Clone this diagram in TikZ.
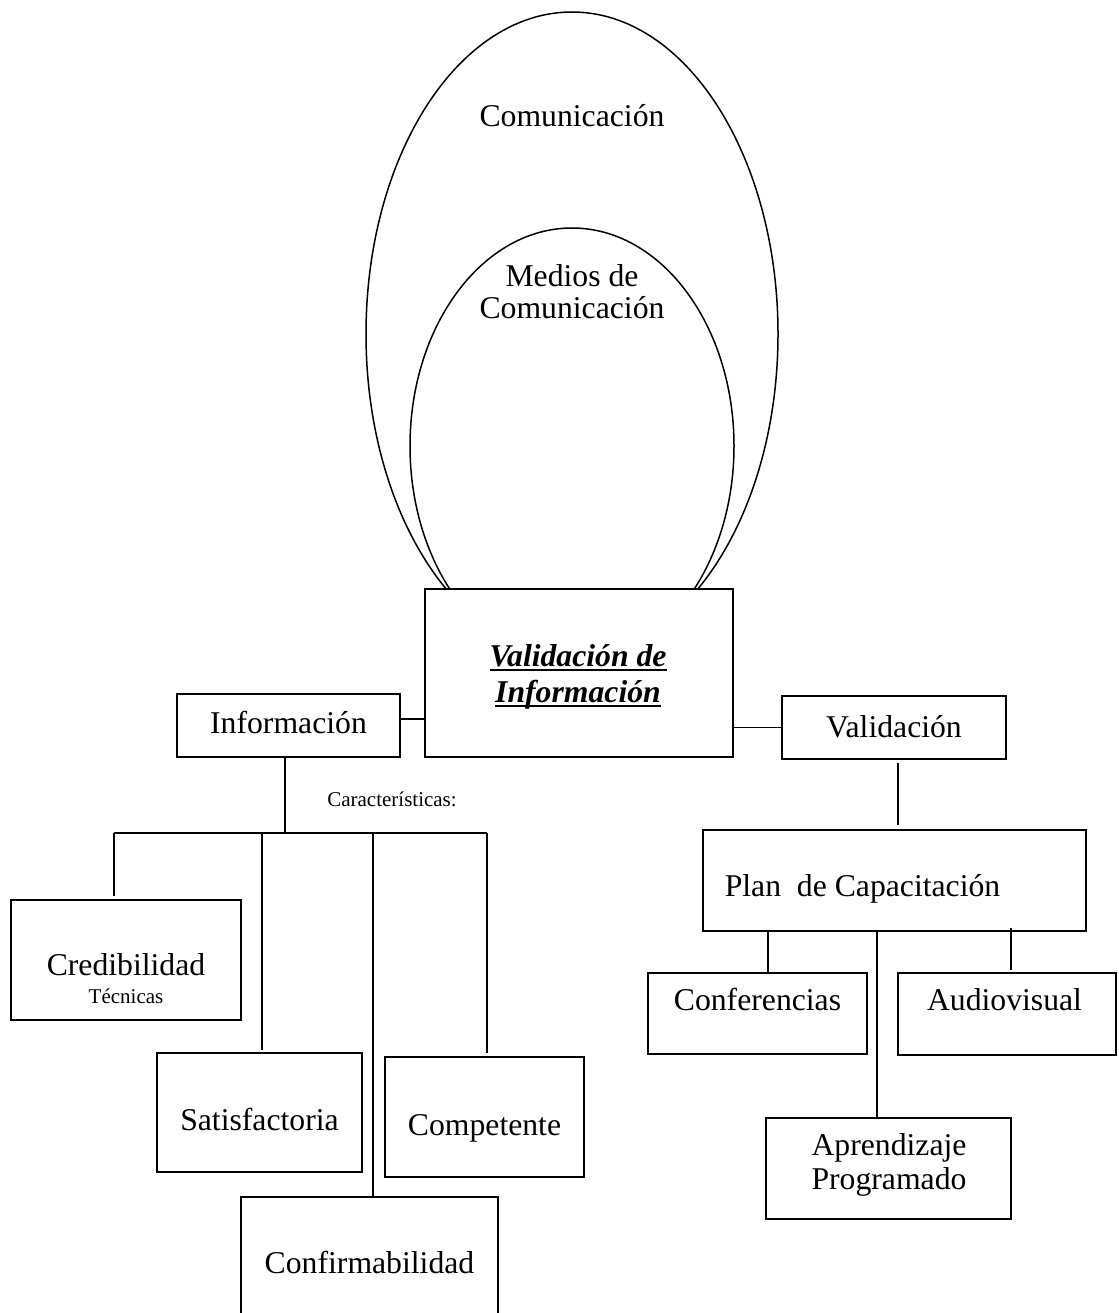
\documentclass[tikz,border=0pt]{standalone}
\usepackage{fontspec}
\setmainfont{Liberation Serif}
\usetikzlibrary{shapes.geometric}
\newcommand{\myul}[1]{\setbox0\hbox{#1}\rlap{\rule[-5pt]{\wd0}{2.4pt}}\box0}
\begin{document}
\begin{tikzpicture}[x=1pt,y=-1pt,line width=1.5pt,
  box/.style={draw,fill=white,line width=1.5pt,inner sep=0pt},
  oval/.style={draw,ellipse,inner sep=0pt,line width=1.5pt},
  big/.style={font=\fontsize{31.7}{33}\selectfont,inner sep=0pt,anchor=base,align=center},
  small/.style={font=\fontsize{21}{24}\selectfont,inner sep=0pt,anchor=base}]
\useasboundingbox (0,0) rectangle (1118,1313);
% ellipses
\node[oval,minimum width=412pt,minimum height=644pt] (outer) at (572,334) {};
\node[oval,minimum width=324pt,minimum height=436pt] (inner) at (572,446) {};
\node[big] (tcom) at (572,127) {Comunicación};
\node[big] (tmed) at (572,287) {Medios de};
\node[big] (tmed2) at (572,318) {Comunicación};
% central box
\node[box,minimum width=308pt,minimum height=168pt] (vi) at (579,673) {};
\node[big,font=\fontsize{31.7}{36}\selectfont\bfseries\itshape] (tvi1) at (578,666) {\myul{Validación de}};
\node[big,font=\fontsize{31.7}{36}\selectfont\bfseries\itshape] (tvi2) at (578,702) {\myul{Información}};
% left branch
\node[box,minimum width=223pt,minimum height=63pt] (info) at (288.5,725.5) {};
\node[big] (tinfo) at (288.5,733) {Información};
\node[box,minimum width=224pt,minimum height=63pt] (val) at (894,727.5) {};
\node[big] (tval) at (894,737) {Validación};
\draw ([yshift=6.5pt]info.east) -- ([yshift=6.5pt]info.east -| vi.west);
\draw (vi.east |- val.west) -- (val.west);
\node[small] (tcar) at (392,806) {Características:};
\coordinate (ib) at (285,757);
\coordinate (bm) at (285,833);
\coordinate (bl) at (114,833);
\coordinate (b2) at (262,833);
\coordinate (b3) at (373,833);
\coordinate (br) at (487,833);
\draw (ib) -- (bm);
\draw (bl) -- (br);
\node[box,minimum width=230pt,minimum height=120pt] (cred) at (126,960) {};
\node[big] (tcred) at (126,975) {Credibilidad};
\node[small] (ttec) at (126,1003) {Técnicas};
\node[box,minimum width=205pt,minimum height=119pt] (sat) at (259.5,1112.5) {};
\node[big] (tsat) at (259.5,1130) {Satisfactoria};
\node[box,minimum width=199pt,minimum height=120pt] (comp) at (484.5,1117) {};
\node[big] (tcomp) at (484.5,1135) {Competente};
\node[box,minimum width=257pt,minimum height=133pt] (confb) at (369.5,1263.5) {};
\node[big] (tconfb) at (369.5,1273) {Confirmabilidad};
\coordinate (e1) at (114,896);
\coordinate (e2) at (262,1050);
\coordinate (e4) at (487,1053);
\draw (bl) -- (e1);
\draw (b2) -- (e2);
\draw (b3) -- (b3 |- confb.north);
\draw (br) -- (e4);
% right branch
\node[box,minimum width=383pt,minimum height=101pt] (plan) at (894.5,880.5) {};
\node[big,anchor=base west] (tplan) at (724,896) {Plan\ \ de Capacitación};
\coordinate (v1) at (898,763);
\coordinate (v2) at (898,825);
\draw (v1) -- (v2);
\node[box,minimum width=219pt,minimum height=81pt] (conf) at (757.5,1013.5) {};
\node[big] (tconf) at (757.5,1010) {Conferencias};
\node[box,minimum width=218pt,minimum height=82pt] (audio) at (1007,1014) {};
\node[big] (taudio) at (1004.5,1010) {Audiovisual};
\node[box,minimum width=245pt,minimum height=101pt] (apr) at (888.5,1168.5) {};
\node[big] (tapr1) at (889,1155) {Aprendizaje};
\node[big] (tapr2) at (889,1189) {Programado};
\coordinate (p1) at (768,931);
\coordinate (p2) at (877,931);
\coordinate (p3) at (1011,928);
\draw (p1) -- (p1 |- conf.north);
\draw (p2) -- (p2 |- apr.north);
\draw (p3) -- (1011,970);
\end{tikzpicture}
\end{document}
